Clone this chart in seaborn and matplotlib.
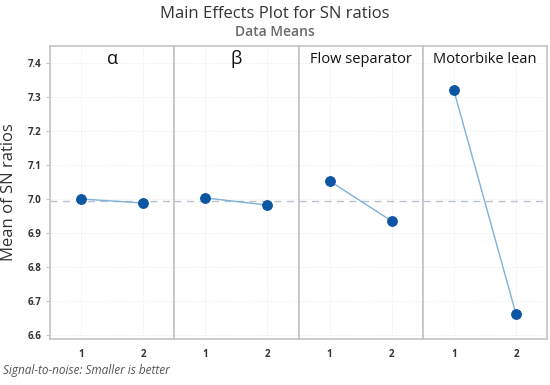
import numpy as np
import pandas as pd
import matplotlib
matplotlib.use('Agg')
import matplotlib.pyplot as plt
import seaborn as sns

factors = ['α', 'β', 'Flow separator', 'Motorbike lean']
levels = [1, 2]
alpha_means = [7.000, 6.988]
beta_means = [7.003, 6.982]
flow_means = [7.053, 6.935]
moto_means = [7.320, 6.662]
grand_mean = 6.993
yticks = [6.6, 6.7, 6.8, 6.9, 7.0, 7.1, 7.2, 7.3, 7.4]

df = pd.DataFrame({
    'factor': np.repeat(factors, len(levels)),
    'level': levels * len(factors),
    'sn': alpha_means + beta_means + flow_means + moto_means,
})

sns.set_style('white')
plt.rcParams['font.family'] = ['Open Sans', 'DejaVu Sans']

fig, axs = plt.subplots(1, 4, figsize=(5.5, 3.85), dpi=100, sharey=True)
fig.subplots_adjust(left=0.091, right=0.9945, top=0.8805, bottom=0.1195, wspace=0)

edge = '#c4c4c4'
for i, (ax, name) in enumerate(zip(axs, factors)):
    sub = df[df['factor'] == name]
    ax.axhline(grand_mean, color='#b8c2cc', lw=1, ls=(0, (5, 4)), zorder=1)
    sns.lineplot(data=sub, x='level', y='sn', ax=ax, color='#7fb0d8', lw=1,
                 marker='o', markersize=7, markerfacecolor='#0b55a3',
                 markeredgecolor='#0b55a3', zorder=3)
    ax.set_xlim(0.5, 2.5)
    ax.set_ylim(6.588, 7.45)
    ax.set_xticks(levels)
    ax.set_xticklabels(['1', '2'], fontsize=7, fontweight='bold', color='#333333')
    ax.set_yticks(yticks)
    ax.grid(True, color='#ececec', lw=0.6, ls=(0, (1, 1)))
    ax.set_xlabel('')
    ax.set_ylabel('')
    for s in ax.spines.values():
        s.set_color(edge)
        s.set_linewidth(1.2)
    ax.tick_params(axis='x', length=3, color=edge, pad=4)
    ax.tick_params(axis='y', length=3, color=edge, left=(i == 0), pad=3)
    fs = 13 if i < 2 else 10.5
    ax.text(0.5, 0.955, name, transform=ax.transAxes, ha='center', va='center',
            fontsize=fs, color='#111111')

axs[0].set_yticklabels([f'{v:.1f}' for v in yticks], fontsize=7, fontweight='bold',
                       color='#333333')
axs[0].set_ylabel('Mean of SN ratios', fontsize=12, color='#333333', labelpad=8)

fig.text(0.5, 0.963, 'Main Effects Plot for SN ratios', ha='center', va='center',
         fontsize=12, color='#333333')
fig.text(0.5, 0.917, 'Data Means', ha='center', va='center', fontsize=10,
         color='#6a6a6a', fontweight='semibold')
fig.text(0.005, 0.038, 'Signal-to-noise: Smaller is better', ha='left', va='center',
         fontsize=8.5, style='italic', color='#555555')

plt.savefig('out.png', dpi=100)
